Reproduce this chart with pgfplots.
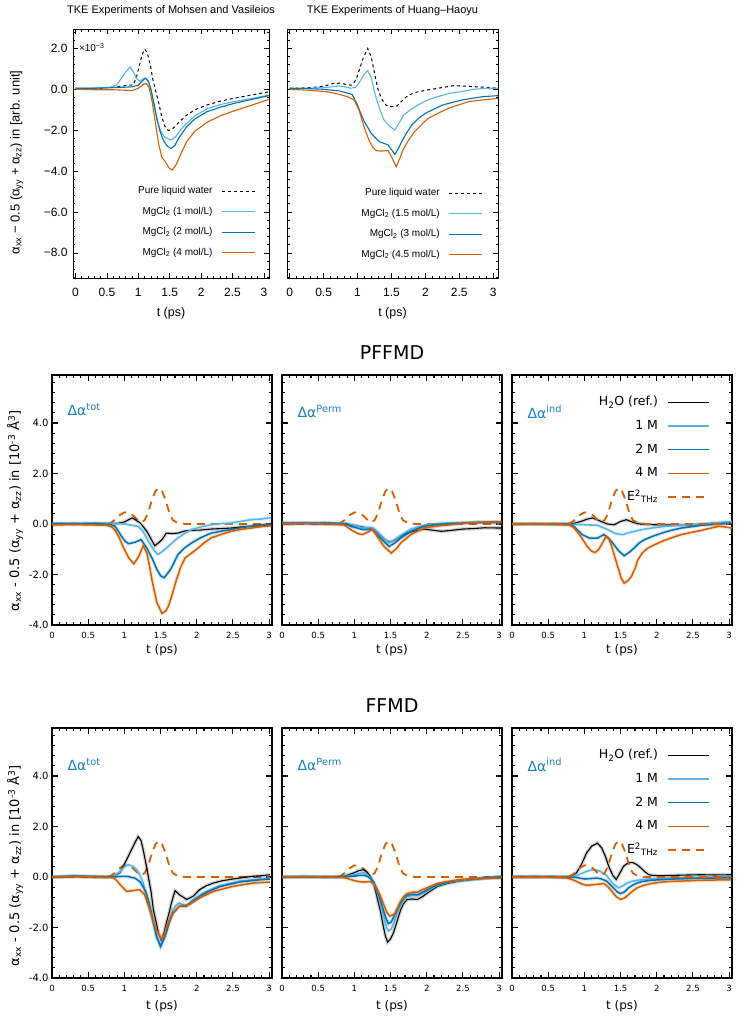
\documentclass[border=0pt]{standalone}
\usepackage{pgfplots}
\pgfplotsset{compat=1.18}
\usepackage{fontspec}
\setmainfont{Liberation Sans}
\newfontfamily\dv{DejaVu Sans}
\definecolor{lblue}{RGB}{86,180,233}
\definecolor{dblue}{RGB}{0,114,178}
\definecolor{orng}{RGB}{213,94,0}
\definecolor{labblue}{RGB}{25,125,195}
\tikzset{plab/.style={anchor=west, text=labblue, font=\dv\fontsize{14}{16}\selectfont}}
\pgfplotsset{
 common/.style={
   scale only axis, no markers, clip=true,
   tick align=inside,
   xtick={0,0.5,1,1.5,2,2.5,3},
   xticklabels={0,0.5,1,1.5,2,2.5,3},
   minor xtick={0,0.1,...,3.05},
   legend plot pos=right,
   legend cell align=right,
 },
 topax/.style={common,
   height=249pt, ymin=-9.23, ymax=2.95,
   ytick={-8,-6,-4,-2,0,2},
   minor ytick={-9.2,-8.8,...,2.9},
   major tick length=5pt, minor tick length=2.5pt,
   axis line style={line width=0.9pt},
   every tick/.style={black, line width=0.7pt},
   tick label style={font=\fontsize{12}{14}\selectfont},
   xticklabel style={yshift=-6.5pt},
   yticklabel style={xshift=-2pt},
   xlabel={t (ps)},
   xlabel style={at={(axis description cs:0.5,-0.1406)}, anchor=center, font=\fontsize{12.5}{14}\selectfont},
   title style={at={(axis description cs:0.5,1.048)}, anchor=center, font=\fontsize{11}{13}\selectfont},
   legend image code/.code={\draw[##1] (0pt,0pt) -- (33pt,0pt);},
   legend style={anchor=south east, draw=none, fill=none, inner sep=0pt,
     font=\fontsize{10}{12}\selectfont, column sep=8pt, row sep=8.5pt,
     nodes={inner sep=1pt, text height=7.5pt, text depth=2.5pt}},
 },
 midax/.style={common,
   width=220pt, height=250pt, xmin=0, xmax=3.04, ymin=-4, ymax=5.9,
   ytick={-4,-2,0,2,4},
   minor ytick={-4,-3.6,...,5.7},
   major tick length=6pt, minor tick length=3pt,
   axis line style={line width=1.5pt},
   every tick/.style={black, line width=1.1pt},
   xticklabel style={font=\dv\fontsize{8.5}{10}\selectfont, yshift=-4pt},
   yticklabel style={font=\dv\fontsize{10}{12}\selectfont},
   xlabel={\dv t (ps)},
   title style={at={(axis description cs:0.5,1.064)}, anchor=center, font=\dv\fontsize{19}{22}\selectfont},
   legend image code/.code={\draw[##1] (0pt,0pt) -- (41pt,0pt);},
   legend style={at={(axis description cs:0.9,0.92)}, anchor=north east, draw=none, fill=none, inner sep=0pt,
     font=\dv\fontsize{12.5}{14}\selectfont, column sep=8pt, row sep=9.7pt,
     nodes={inner sep=1pt, text height=9.5pt, text depth=2.5pt}},
 },
 halo/.style={preaction={draw, line width=3.6pt, opacity=0.18}},
 s0/.style={black, line width=1.1pt, halo},
 s1/.style={lblue, line width=1.5pt, halo},
 s2/.style={dblue, line width=1.5pt, halo},
 s4/.style={orng, line width=1.5pt, halo},
 sE/.style={orng, line width=1.8pt, dash pattern=on 8pt off 6pt},
}
\newcommand{\Esq}{\addplot[sE] coordinates {(0,0)(0.7,0)(0.8,0.03)(0.88,0.18)(0.94,0.36)(1.0,0.46)(1.06,0.44)(1.12,0.34)(1.18,0.17)(1.23,0.07)(1.28,0.15)(1.33,0.45)(1.38,0.95)(1.43,1.3)(1.47,1.42)(1.52,1.3)(1.57,0.95)(1.62,0.45)(1.67,0.15)(1.74,0.04)(1.85,0.0)(3.0,0.0)};}
\newcommand{\midlegend}{%
\addlegendimage{black, line width=1pt}\addlegendentry{H\textsubscript{2}O (ref.)}
\addlegendimage{lblue, line width=1.4pt}\addlegendentry{1 M}
\addlegendimage{dblue, line width=1.4pt}\addlegendentry{2 M}
\addlegendimage{orng, line width=1.4pt}\addlegendentry{4 M}
\addlegendimage{sE}\addlegendentry{E\textsuperscript{2}\textsubscript{THz}}}
\begin{document}
\begin{tikzpicture}
\useasboundingbox (0pt,0pt) rectangle (740pt,-1018pt);
% ---------------- top left
\begin{axis}[topax, at={(73pt,-29pt)}, anchor=north west, width=196pt, xmin=-0.04, xmax=3.08,
  yticklabels={−8.0,−6.0,−4.0,−2.0,0.0,2.0},
  title={TKE Experiments of Mohsen and Vasileios},
  ylabel={α\textsubscript{xx} − 0.5 (α\textsubscript{yy} + α\textsubscript{zz}) in [arb. unit]},
  ylabel style={at={(axis description cs:-0.287,0.464)}, anchor=center, font=\fontsize{13}{15}\selectfont},
  legend style={at={(axis description cs:0.933,0.076)}}]
\addplot[black, line width=1pt, dash pattern=on 3pt off 3pt] coordinates {(0,0.0)(0.2,0.02)(0.4,0.05)(0.6,0.1)(0.8,0.18)(0.92,0.22)(0.97,0.6)(1.02,1.2)(1.06,1.7)(1.1,1.97)(1.14,1.8)(1.19,1.2)(1.23,0.5)(1.27,0.0)(1.32,-0.6)(1.37,-1.3)(1.42,-1.8)(1.48,-2.02)(1.55,-1.92)(1.65,-1.6)(1.77,-1.26)(1.9,-1.0)(2.09,-0.77)(2.3,-0.58)(2.52,-0.44)(2.8,-0.28)(3.08,-0.12)};
\addlegendentry{Pure liquid water}
\addplot[lblue, line width=1.1pt] coordinates {(0,0.05)(0.2,0.05)(0.4,0.08)(0.55,0.1)(0.65,0.2)(0.72,0.5)(0.8,0.85)(0.87,1.1)(0.92,0.85)(0.97,0.55)(1.02,0.4)(1.07,0.5)(1.11,0.55)(1.15,0.45)(1.2,0.0)(1.25,-0.8)(1.3,-1.5)(1.35,-2.0)(1.42,-2.35)(1.52,-2.48)(1.6,-2.3)(1.68,-1.95)(1.77,-1.66)(1.9,-1.3)(2.09,-0.96)(2.3,-0.75)(2.52,-0.6)(2.8,-0.45)(3.08,-0.28)};
\addlegendentry{MgCl\textsubscript{2} (1 mol/L)}
\addplot[dblue, line width=1.1pt] coordinates {(0,0.05)(0.3,0.05)(0.6,0.08)(0.9,0.12)(1.0,0.2)(1.06,0.4)(1.11,0.54)(1.16,0.4)(1.2,0.0)(1.25,-0.7)(1.3,-1.5)(1.35,-2.1)(1.4,-2.5)(1.46,-2.78)(1.52,-2.89)(1.58,-2.75)(1.65,-2.35)(1.77,-1.83)(1.9,-1.45)(2.09,-1.1)(2.3,-0.88)(2.52,-0.69)(2.8,-0.5)(3.08,-0.31)};
\addlegendentry{MgCl\textsubscript{2} (2 mol/L)}
\addplot[orng, line width=1.1pt] coordinates {(0,0.0)(0.3,-0.02)(0.6,-0.02)(0.9,-0.06)(1.0,0.05)(1.07,0.22)(1.12,0.3)(1.17,0.1)(1.22,-0.6)(1.27,-1.6)(1.32,-2.6)(1.37,-3.3)(1.43,-3.55)(1.49,-3.85)(1.54,-3.95)(1.6,-3.7)(1.67,-3.2)(1.77,-2.56)(1.9,-2.05)(2.09,-1.62)(2.3,-1.3)(2.52,-1.06)(2.8,-0.78)(3.08,-0.49)};
\addlegendentry{MgCl\textsubscript{2} (4 mol/L)}
\node[anchor=west, font=\fontsize{10}{11}\selectfont, inner sep=0pt] at (axis description cs:0.03,0.925) {×10\textsuperscript{−3}};
\end{axis}
% ---------------- top right
\begin{axis}[topax, at={(287pt,-29pt)}, anchor=north west, width=211pt, xmin=-0.04, xmax=3.07,
  yticklabels={},
  title={TKE Experiments of Huang–Haoyu},
  legend style={at={(axis description cs:0.929,0.068)}}]
\addplot[black, line width=1pt, dash pattern=on 3pt off 3pt] coordinates {(0,0.05)(0.3,0.08)(0.5,0.15)(0.65,0.29)(0.75,0.3)(0.85,0.22)(0.92,0.2)(0.98,0.5)(1.03,1.0)(1.08,1.5)(1.15,2.0)(1.2,1.6)(1.25,0.8)(1.3,0.0)(1.36,-0.5)(1.42,-0.78)(1.5,-0.85)(1.58,-0.82)(1.66,-0.55)(1.74,-0.31)(1.85,-0.15)(2.0,-0.05)(2.18,0.05)(2.42,0.18)(2.71,0.13)(2.9,0.1)(3.07,0.05)};
\addlegendentry{Pure liquid water}
\addplot[lblue, line width=1.1pt] coordinates {(0,0.05)(0.3,0.05)(0.55,0.1)(0.73,0.16)(0.82,0.12)(0.9,0.05)(0.97,0.1)(1.03,0.35)(1.09,0.7)(1.15,0.91)(1.2,0.6)(1.24,0.0)(1.28,-0.5)(1.33,-1.0)(1.39,-1.5)(1.47,-1.8)(1.55,-1.99)(1.62,-1.6)(1.68,-1.26)(1.8,-0.95)(1.93,-0.69)(2.05,-0.5)(2.18,-0.36)(2.35,-0.2)(2.52,-0.12)(2.7,0.0)(2.91,0.05)(3.07,0.05)};
\addlegendentry{MgCl\textsubscript{2} (1.5 mol/L)}
\addplot[dblue, line width=1.1pt] coordinates {(0,0.05)(0.3,0.03)(0.5,0.0)(0.73,-0.08)(0.92,-0.25)(1.0,-0.77)(1.05,-1.2)(1.1,-1.58)(1.2,-2.15)(1.32,-2.56)(1.45,-2.72)(1.5,-2.95)(1.55,-3.18)(1.6,-2.9)(1.65,-2.56)(1.72,-2.15)(1.8,-1.74)(1.9,-1.42)(2.0,-1.17)(2.25,-0.77)(2.54,-0.52)(2.84,-0.36)(3.07,-0.31)};
\addlegendentry{MgCl\textsubscript{2} (3 mol/L)}
\addplot[orng, line width=1.1pt] coordinates {(0,0.0)(0.3,-0.05)(0.55,-0.12)(0.7,-0.22)(0.85,-0.36)(0.95,-0.52)(1.02,-1.01)(1.07,-1.55)(1.12,-2.07)(1.17,-2.5)(1.22,-2.8)(1.27,-3.0)(1.35,-3.02)(1.45,-3.0)(1.5,-3.3)(1.57,-3.78)(1.62,-3.4)(1.67,-2.96)(1.75,-2.5)(1.84,-2.07)(1.95,-1.7)(2.04,-1.42)(2.2,-1.15)(2.34,-0.93)(2.5,-0.75)(2.64,-0.6)(2.85,-0.52)(3.07,-0.44)};
\addlegendentry{MgCl\textsubscript{2} (4.5 mol/L)}
\end{axis}
% ---------------- PFFMD 1
\begin{axis}[midax, at={(52pt,-375pt)}, anchor=north west,
  yticklabels={-4.0,-2.0,0.0,2.0,4.0},
  xlabel style={at={(axis description cs:0.5,-0.1)}, anchor=center, font=\dv\fontsize{12}{14}\selectfont},
  ylabel={\dv α\textsubscript{xx} - 0.5 (α\textsubscript{yy} + α\textsubscript{zz}) in [10\textsuperscript{-3} Å\textsuperscript{3}]},
  ylabel style={at={(axis description cs:-0.168,0.457)}, anchor=center, font=\dv\fontsize{13}{15}\selectfont}]
\Esq
\addplot[s0] coordinates {(0,0.0)(0.3,0.02)(0.6,0.0)(0.9,0.02)(1.0,0.08)(1.06,0.17)(1.11,0.24)(1.16,0.15)(1.22,0.04)(1.31,-0.29)(1.37,-0.6)(1.42,-0.86)(1.47,-0.75)(1.52,-0.62)(1.58,-0.36)(1.66,-0.38)(1.74,-0.36)(1.83,-0.28)(1.93,-0.25)(2.05,-0.24)(2.2,-0.2)(2.35,-0.18)(2.48,-0.16)(2.6,-0.12)(2.75,-0.09)(2.9,-0.06)(3.03,-0.03)};
\addplot[s1] coordinates {(0,0.03)(0.3,0.02)(0.6,0.04)(0.9,0.02)(1.0,0.0)(1.06,-0.03)(1.19,-0.09)(1.26,-0.3)(1.33,-0.68)(1.4,-1.0)(1.46,-1.21)(1.52,-1.1)(1.58,-0.95)(1.66,-0.75)(1.74,-0.55)(1.83,-0.38)(1.93,-0.22)(2.05,-0.12)(2.2,-0.03)(2.35,0.02)(2.48,0.04)(2.6,0.1)(2.75,0.17)(2.9,0.2)(3.03,0.26)};
\addplot[s2] coordinates {(0,0.02)(0.3,0.0)(0.6,0.02)(0.8,-0.02)(0.87,-0.09)(0.92,-0.3)(0.96,-0.49)(1.01,-0.68)(1.06,-0.78)(1.15,-0.72)(1.23,-0.62)(1.31,-0.95)(1.38,-1.34)(1.45,-1.8)(1.5,-2.05)(1.55,-2.13)(1.6,-1.95)(1.65,-1.74)(1.74,-1.21)(1.83,-0.95)(1.93,-0.75)(2.05,-0.55)(2.2,-0.36)(2.35,-0.28)(2.48,-0.22)(2.6,-0.15)(2.75,-0.09)(2.9,-0.04)(3.03,0.0)};
\addplot[s4] coordinates {(0,-0.04)(0.3,-0.02)(0.6,-0.04)(0.75,-0.05)(0.83,-0.12)(0.88,-0.28)(0.92,-0.49)(0.99,-0.95)(1.06,-1.34)(1.13,-1.58)(1.2,-1.28)(1.26,-0.86)(1.31,-1.14)(1.35,-1.7)(1.38,-2.2)(1.45,-3.12)(1.52,-3.54)(1.57,-3.45)(1.61,-3.25)(1.66,-2.8)(1.72,-2.2)(1.78,-1.7)(1.84,-1.34)(1.93,-1.15)(2.02,-0.95)(2.1,-0.75)(2.2,-0.55)(2.35,-0.4)(2.48,-0.29)(2.6,-0.22)(2.75,-0.16)(2.9,-0.1)(3.03,-0.07)};
\node[plab] at (axis description cs:0.055,0.86) {Δα\textsuperscript{tot}};
\end{axis}
% ---------------- PFFMD 2
\begin{axis}[midax, at={(282pt,-375pt)}, anchor=north west,
  yticklabels={},
  xlabel style={at={(axis description cs:0.5,-0.1)}, anchor=center, font=\dv\fontsize{12}{14}\selectfont},
  title={PFFMD}]
\Esq
\addplot[s0] coordinates {(0,0.0)(0.3,0.02)(0.6,0.0)(0.9,-0.03)(1.0,-0.06)(1.11,-0.12)(1.25,-0.18)(1.33,-0.35)(1.41,-0.6)(1.48,-0.72)(1.55,-0.65)(1.64,-0.48)(1.72,-0.36)(1.8,-0.3)(1.96,-0.2)(2.1,-0.25)(2.2,-0.29)(2.35,-0.25)(2.5,-0.2)(2.65,-0.18)(2.8,-0.15)(3.03,-0.16)};
\addplot[s1] coordinates {(0,0.06)(0.3,0.05)(0.6,0.06)(0.9,0.02)(1.0,-0.05)(1.11,-0.15)(1.25,-0.15)(1.33,-0.35)(1.41,-0.6)(1.48,-0.75)(1.56,-0.62)(1.64,-0.45)(1.78,-0.2)(1.96,-0.05)(2.15,0.02)(2.33,0.05)(2.5,0.06)(2.71,0.08)(2.9,0.09)(3.03,0.1)};
\addplot[s2] coordinates {(0,0.04)(0.3,0.03)(0.6,0.04)(0.9,0.0)(0.95,-0.09)(1.11,-0.22)(1.25,-0.22)(1.33,-0.45)(1.41,-0.7)(1.48,-0.89)(1.56,-0.75)(1.64,-0.56)(1.78,-0.29)(1.96,-0.09)(2.15,-0.02)(2.33,0.01)(2.5,0.03)(2.71,0.05)(3.03,0.05)};
\addplot[s4] coordinates {(0,0.0)(0.3,0.02)(0.6,0.0)(0.85,-0.02)(0.95,-0.22)(1.05,-0.38)(1.11,-0.42)(1.18,-0.33)(1.25,-0.22)(1.33,-0.55)(1.41,-0.89)(1.51,-1.15)(1.58,-0.98)(1.64,-0.75)(1.78,-0.42)(1.96,-0.16)(2.15,-0.08)(2.33,-0.03)(2.5,0.02)(2.71,0.07)(2.9,0.08)(3.03,0.08)};
\node[plab] at (axis description cs:0.055,0.853) {Δα\textsuperscript{Perm}};
\end{axis}
% ---------------- PFFMD 3
\begin{axis}[midax, at={(512pt,-375pt)}, anchor=north west,
  yticklabels={},
  xlabel style={at={(axis description cs:0.5,-0.1)}, anchor=center, font=\dv\fontsize{12}{14}\selectfont}]
\midlegend
\addplot[s0] coordinates {(0,0.0)(0.3,0.01)(0.6,0.0)(0.85,0.02)(0.95,0.1)(1.05,0.2)(1.11,0.24)(1.17,0.18)(1.23,0.1)(1.32,0.0)(1.41,-0.03)(1.5,0.1)(1.58,0.17)(1.66,0.08)(1.74,0.01)(1.85,-0.02)(1.97,-0.03)(2.2,-0.04)(2.4,-0.05)(2.6,-0.02)(2.8,0.0)(3.04,0.04)};
\addplot[s1] coordinates {(0,0.0)(0.3,0.01)(0.6,0.0)(0.9,-0.02)(1.0,-0.03)(1.18,-0.05)(1.32,-0.22)(1.43,-0.38)(1.53,-0.42)(1.6,-0.36)(1.69,-0.29)(1.8,-0.22)(1.93,-0.16)(2.1,-0.1)(2.25,-0.07)(2.45,-0.03)(2.62,0.01)(2.8,0.05)(3.04,0.1)};
\addplot[s2] coordinates {(0,0.0)(0.3,-0.01)(0.6,0.0)(0.8,-0.03)(0.86,-0.1)(0.9,-0.22)(0.97,-0.42)(1.07,-0.56)(1.18,-0.56)(1.27,-0.42)(1.33,-0.55)(1.39,-0.75)(1.47,-1.05)(1.55,-1.26)(1.62,-1.12)(1.69,-0.95)(1.76,-0.75)(1.83,-0.62)(1.95,-0.48)(2.07,-0.36)(2.2,-0.25)(2.34,-0.16)(2.5,-0.1)(2.62,-0.05)(2.8,-0.01)(3.04,0.04)};
\addplot[s4] coordinates {(0,-0.02)(0.3,0.0)(0.6,-0.02)(0.8,-0.04)(0.86,-0.16)(0.95,-0.49)(1.04,-0.89)(1.1,-1.08)(1.15,-1.13)(1.2,-1.0)(1.25,-0.75)(1.3,-0.49)(1.34,-0.6)(1.37,-0.82)(1.42,-1.3)(1.46,-1.68)(1.51,-2.15)(1.55,-2.34)(1.6,-2.25)(1.65,-2.08)(1.7,-1.75)(1.74,-1.42)(1.8,-1.15)(1.88,-0.95)(1.97,-0.82)(2.07,-0.69)(2.2,-0.55)(2.34,-0.42)(2.5,-0.32)(2.62,-0.25)(2.75,-0.16)(2.86,-0.09)(2.95,-0.12)(3.04,-0.16)};
\Esq
\node[plab] at (axis description cs:0.055,0.853) {Δα\textsuperscript{ind}};
\end{axis}
% ---------------- FFMD 1
\begin{axis}[midax, at={(52pt,-728pt)}, anchor=north west,
  yticklabels={-4.0,-2.0,0.0,2.0,4.0},
  xlabel style={at={(axis description cs:0.5,-0.112)}, anchor=center, font=\dv\fontsize{12}{14}\selectfont},
  ylabel={\dv α\textsubscript{xx} - 0.5 (α\textsubscript{yy} + α\textsubscript{zz}) in [10\textsuperscript{-3} Å\textsuperscript{3}]},
  ylabel style={at={(axis description cs:-0.168,0.45)}, anchor=center, font=\dv\fontsize{13}{15}\selectfont}]
\Esq
\addplot[s0] coordinates {(0,0.0)(0.3,0.02)(0.6,0.0)(0.84,0.0)(0.94,0.18)(1.03,0.68)(1.12,1.21)(1.19,1.6)(1.23,1.45)(1.26,1.08)(1.3,0.5)(1.33,0.03)(1.37,-0.6)(1.4,-1.29)(1.44,-1.8)(1.47,-2.21)(1.51,-2.5)(1.55,-2.2)(1.58,-1.82)(1.62,-1.4)(1.65,-1.03)(1.7,-0.54)(1.76,-0.7)(1.86,-0.89)(1.95,-0.76)(2.04,-0.5)(2.13,-0.35)(2.23,-0.24)(2.35,-0.15)(2.5,-0.08)(2.65,-0.02)(2.78,0.03)(2.9,0.05)(3.01,0.09)};
\addplot[s1] coordinates {(0,0.0)(0.3,0.03)(0.6,0.02)(0.84,0.0)(0.94,0.22)(1.0,0.4)(1.05,0.49)(1.12,0.42)(1.17,0.29)(1.22,0.05)(1.26,-0.24)(1.3,-0.7)(1.35,-1.29)(1.4,-1.85)(1.44,-2.34)(1.5,-2.74)(1.55,-2.4)(1.58,-2.08)(1.62,-1.7)(1.67,-1.29)(1.72,-1.1)(1.76,-1.03)(1.81,-1.1)(1.86,-1.13)(1.95,-0.89)(2.04,-0.72)(2.13,-0.57)(2.32,-0.34)(2.59,-0.17)(2.8,-0.1)(3.01,-0.04)};
\addplot[s2] coordinates {(0,0.0)(0.3,0.04)(0.6,0.02)(0.84,0.0)(0.95,0.02)(1.05,0.02)(1.15,-0.05)(1.22,-0.2)(1.3,-0.6)(1.34,-1.0)(1.38,-1.5)(1.45,-2.4)(1.5,-2.75)(1.54,-2.5)(1.58,-2.2)(1.62,-1.8)(1.67,-1.45)(1.76,-1.15)(1.86,-1.15)(1.95,-0.95)(2.04,-0.78)(2.13,-0.62)(2.32,-0.38)(2.59,-0.2)(2.8,-0.13)(3.01,-0.08)};
\addplot[s4] coordinates {(0,0.0)(0.3,0.02)(0.6,0.0)(0.84,-0.02)(0.9,-0.15)(0.94,-0.3)(1.03,-0.57)(1.12,-0.54)(1.21,-0.5)(1.28,-0.7)(1.35,-1.29)(1.44,-2.08)(1.51,-2.45)(1.55,-2.3)(1.58,-2.01)(1.67,-1.42)(1.76,-1.16)(1.9,-1.09)(2.04,-0.83)(2.23,-0.57)(2.5,-0.37)(2.78,-0.24)(3.01,-0.2)};
\node[plab] at (axis description cs:0.055,0.853) {Δα\textsuperscript{tot}};
\end{axis}
% ---------------- FFMD 2
\begin{axis}[midax, at={(282pt,-728pt)}, anchor=north west,
  yticklabels={},
  xlabel style={at={(axis description cs:0.5,-0.112)}, anchor=center, font=\dv\fontsize{12}{14}\selectfont},
  title={FFMD}]
\Esq
\addplot[s0] coordinates {(0,0.0)(0.3,0.01)(0.6,0.0)(0.85,0.02)(0.99,0.16)(1.06,0.25)(1.13,0.29)(1.18,0.18)(1.22,0.03)(1.27,-0.3)(1.31,-0.76)(1.36,-1.35)(1.4,-1.95)(1.43,-2.35)(1.46,-2.58)(1.5,-2.45)(1.54,-2.21)(1.59,-1.75)(1.64,-1.29)(1.68,-1.05)(1.73,-0.89)(1.8,-0.87)(1.87,-0.89)(1.94,-0.78)(2.01,-0.63)(2.08,-0.5)(2.15,-0.37)(2.28,-0.26)(2.43,-0.17)(2.57,-0.12)(2.71,-0.08)(2.87,-0.03)(3.03,0.03)};
\addplot[s1] coordinates {(0,0.0)(0.3,0.01)(0.6,0.0)(0.85,0.01)(0.99,0.08)(1.06,0.14)(1.13,0.17)(1.18,0.08)(1.22,-0.02)(1.27,-0.22)(1.31,-0.55)(1.36,-1.0)(1.4,-1.5)(1.44,-1.95)(1.47,-2.15)(1.51,-2.05)(1.54,-1.85)(1.59,-1.45)(1.64,-1.1)(1.69,-0.88)(1.73,-0.78)(1.8,-0.74)(1.87,-0.75)(1.94,-0.66)(2.01,-0.55)(2.08,-0.44)(2.15,-0.33)(2.28,-0.23)(2.43,-0.15)(2.57,-0.11)(2.71,-0.07)(2.87,-0.03)(3.03,0.01)};
\addplot[s2] coordinates {(0,0.0)(0.3,0.01)(0.6,0.0)(0.85,0.0)(0.99,0.03)(1.06,0.06)(1.13,0.07)(1.18,0.02)(1.22,-0.05)(1.27,-0.22)(1.31,-0.5)(1.36,-0.9)(1.4,-1.3)(1.44,-1.65)(1.47,-1.85)(1.51,-1.78)(1.54,-1.6)(1.59,-1.3)(1.64,-1.0)(1.69,-0.8)(1.73,-0.72)(1.8,-0.68)(1.87,-0.7)(1.94,-0.6)(2.01,-0.5)(2.08,-0.4)(2.15,-0.3)(2.28,-0.21)(2.43,-0.13)(2.57,-0.09)(2.71,-0.06)(2.87,-0.03)(3.03,0.0)};
\addplot[s4] coordinates {(0,0.0)(0.3,0.02)(0.6,0.0)(0.85,-0.02)(0.95,-0.1)(1.05,-0.18)(1.13,-0.2)(1.22,-0.18)(1.27,-0.28)(1.31,-0.45)(1.36,-0.75)(1.4,-1.05)(1.45,-1.4)(1.49,-1.55)(1.53,-1.5)(1.56,-1.45)(1.6,-1.2)(1.64,-0.95)(1.69,-0.75)(1.73,-0.65)(1.8,-0.6)(1.87,-0.6)(1.94,-0.5)(2.01,-0.42)(2.08,-0.33)(2.15,-0.25)(2.28,-0.18)(2.43,-0.12)(2.57,-0.08)(2.71,-0.05)(2.87,-0.05)(3.03,-0.05)};
\node[plab] at (axis description cs:0.055,0.853) {Δα\textsuperscript{Perm}};
\end{axis}
% ---------------- FFMD 3
\begin{axis}[midax, at={(512pt,-728pt)}, anchor=north west,
  yticklabels={},
  xlabel style={at={(axis description cs:0.5,-0.112)}, anchor=center, font=\dv\fontsize{12}{14}\selectfont}]
\midlegend
\addplot[s0] coordinates {(0,0.0)(0.3,0.01)(0.6,0.0)(0.8,0.01)(0.89,0.16)(0.96,0.5)(1.03,0.95)(1.1,1.22)(1.18,1.34)(1.24,1.15)(1.29,0.82)(1.34,0.4)(1.39,0.08)(1.44,-0.1)(1.49,0.15)(1.54,0.42)(1.6,0.55)(1.66,0.58)(1.72,0.5)(1.78,0.36)(1.84,0.2)(1.89,0.09)(1.95,0.06)(2.06,0.05)(2.3,0.07)(2.61,0.09)(2.8,0.08)(3.03,0.09)};
\addplot[s1] coordinates {(0,0.02)(0.3,0.03)(0.6,0.02)(0.8,0.01)(0.89,0.05)(0.96,0.14)(1.03,0.22)(1.09,0.27)(1.15,0.29)(1.22,0.22)(1.31,0.05)(1.39,-0.25)(1.47,-0.43)(1.53,-0.35)(1.59,-0.24)(1.66,-0.17)(1.73,-0.13)(1.87,-0.08)(2.15,-0.04)(2.5,-0.02)(3.03,0.01)};
\addplot[s2] coordinates {(0,0.0)(0.3,0.01)(0.6,0.0)(0.8,-0.01)(0.89,-0.02)(1.0,-0.08)(1.1,-0.06)(1.17,-0.04)(1.24,-0.08)(1.31,-0.17)(1.39,-0.4)(1.45,-0.58)(1.5,-0.66)(1.56,-0.58)(1.61,-0.43)(1.67,-0.32)(1.73,-0.24)(1.8,-0.18)(1.92,-0.13)(2.24,-0.08)(2.61,-0.05)(3.03,-0.03)};
\addplot[s4] coordinates {(0,-0.02)(0.3,-0.01)(0.6,-0.02)(0.75,-0.04)(0.82,-0.09)(0.89,-0.17)(0.96,-0.27)(1.03,-0.33)(1.15,-0.3)(1.27,-0.26)(1.33,-0.4)(1.38,-0.57)(1.44,-0.78)(1.5,-0.89)(1.56,-0.82)(1.61,-0.7)(1.67,-0.55)(1.73,-0.43)(1.82,-0.33)(1.92,-0.26)(2.07,-0.2)(2.24,-0.17)(2.45,-0.15)(2.61,-0.13)(2.8,-0.12)(3.03,-0.11)};
\Esq
\node[plab] at (axis description cs:0.055,0.853) {Δα\textsuperscript{ind}};
\end{axis}
\end{tikzpicture}
\end{document}
